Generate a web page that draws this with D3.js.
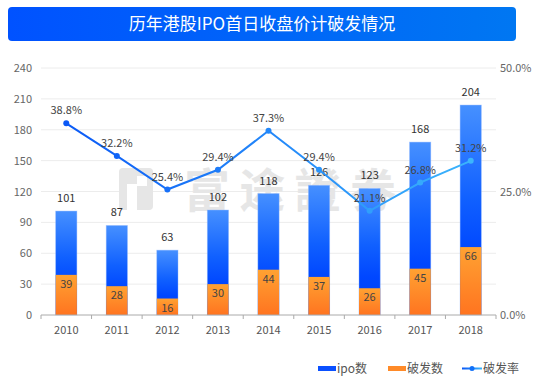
<!DOCTYPE html>
<html>
<head>
<meta charset="utf-8">
<script src="https://cdn.jsdelivr.net/npm/d3@7"></script>
<style>
  body { margin: 0; background: #fff; }
  svg { display: block; font-family: "Noto Sans CJK SC", "Noto Sans", sans-serif; }
</style>
</head>
<body>
<div id="chart"></div>
<script>
// chart data
const years = ["2010", "2011", "2012", "2013", "2014", "2015", "2016", "2017", "2018"];
const ipoCount = [101, 87, 63, 102, 118, 126, 123, 168, 204];
const brokenCount = [39, 28, 16, 30, 44, 37, 26, 45, 66];
const brokenRate = [38.8, 32.2, 25.4, 29.4, 37.3, 29.4, 21.1, 26.8, 31.2];
const leftTicks = [0, 30, 60, 90, 120, 150, 180, 210, 240];
const rightTicks = [0, 25, 50];

const width = 550, height = 385;
const margin = { top: 68, right: 55, bottom: 70, left: 41 };

const svg = d3.select("#chart").append("svg")
    .attr("width", width)
    .attr("height", height);

const defs = svg.append("defs");

const titleGrad = defs.append("linearGradient").attr("id", "titleGrad");
titleGrad.append("stop").attr("offset", "0%").attr("stop-color", "#0052ff");
titleGrad.append("stop").attr("offset", "100%").attr("stop-color", "#0077f2");

const blueGrad = defs.append("linearGradient").attr("id", "blueGrad")
    .attr("x1", 0).attr("y1", 0).attr("x2", 0).attr("y2", 1);
blueGrad.append("stop").attr("offset", "0%").attr("stop-color", "#4690ff");
blueGrad.append("stop").attr("offset", "45%").attr("stop-color", "#1060ff");
blueGrad.append("stop").attr("offset", "70%").attr("stop-color", "#0047ff");
blueGrad.append("stop").attr("offset", "100%").attr("stop-color", "#0040f2");

const orangeGrad = defs.append("linearGradient").attr("id", "orangeGrad")
    .attr("x1", 0).attr("y1", 0).attr("x2", 0).attr("y2", 1);
orangeGrad.append("stop").attr("offset", "0%").attr("stop-color", "#ffa232");
orangeGrad.append("stop").attr("offset", "100%").attr("stop-color", "#ff7420");

// Title bar
svg.append("rect")
    .attr("x", 8).attr("y", 7)
    .attr("width", 508).attr("height", 34)
    .attr("rx", 4)
    .attr("fill", "url(#titleGrad)");

svg.append("text")
    .attr("x", 262).attr("y", 30)
    .attr("text-anchor", "middle")
    .attr("fill", "#fff")
    .attr("font-size", 17)
    .text("历年港股IPO首日收盘价计破发情况");

// Scales
const x = d3.scaleBand()
    .domain(years)
    .range([margin.left, width - margin.right + 1])
    .paddingInner(0.58)
    .paddingOuter(0.29);

const y = d3.scaleLinear()
    .domain([0, 240])
    .range([height - margin.bottom, margin.top]);

const yRate = d3.scaleLinear()
    .domain([0, 50])
    .range([height - margin.bottom, margin.top]);

const plotRight = width - margin.right + 1;

// Grid lines
svg.append("g")
    .selectAll("line")
    .data(leftTicks.filter(d => d > 0))
    .join("line")
    .attr("x1", margin.left)
    .attr("x2", plotRight)
    .attr("y1", d => y(d))
    .attr("y2", d => y(d))
    .attr("stroke", "#ececec")
    .attr("stroke-width", 1);

// Watermark
const wm = svg.append("g").attr("fill", "#e6e6e6");
wm.append("rect").attr("x", 119).attr("y", 168).attr("width", 34).attr("height", 42).attr("rx", 4);
wm.append("rect").attr("x", 127).attr("y", 184).attr("width", 10).attr("height", 26).attr("fill", "#fff");
wm.append("rect").attr("x", 137).attr("y", 176).attr("width", 10).attr("height", 10).attr("fill", "#fff");
wm.append("text")
    .attr("x", 184).attr("y", 207)
    .attr("font-size", 46)
    .attr("font-weight", "bold")
    .attr("textLength", 212)
    .text("富途證券");

// Left axis
const yAxis = svg.append("g")
    .attr("transform", `translate(${margin.left},0)`)
    .call(d3.axisLeft(y).tickValues(leftTicks).tickSize(0).tickPadding(9));
yAxis.select(".domain").remove();
yAxis.selectAll("text").attr("fill", "#666").attr("font-size", 11)
    .attr("font-family", "'Noto Sans CJK SC', sans-serif");

// Right axis
const rAxis = svg.append("g")
    .attr("transform", `translate(${plotRight},0)`)
    .call(d3.axisRight(yRate).tickValues(rightTicks).tickSize(0).tickPadding(4)
        .tickFormat(d => d.toFixed(1) + "%"));
rAxis.select(".domain").remove();
rAxis.selectAll("text").attr("fill", "#666").attr("font-size", 11)
    .attr("font-family", "'Noto Sans CJK SC', sans-serif");

// Bars: ipo total (blue), broken count (orange) over it
const bars = svg.append("g");
bars.selectAll(".ipo")
    .data(years)
    .join("rect")
    .attr("class", "ipo")
    .attr("x", d => x(d))
    .attr("width", x.bandwidth())
    .attr("y", (d, i) => y(ipoCount[i]))
    .attr("height", (d, i) => y(0) - y(ipoCount[i]))
    .attr("fill", "url(#blueGrad)")
    .attr("stroke", "#8fb8ff")
    .attr("stroke-opacity", 0.5)
    .attr("stroke-width", 0.8);

bars.selectAll(".broken")
    .data(years)
    .join("rect")
    .attr("class", "broken")
    .attr("x", d => x(d))
    .attr("width", x.bandwidth())
    .attr("y", (d, i) => y(brokenCount[i]))
    .attr("height", (d, i) => y(0) - y(brokenCount[i]))
    .attr("fill", "url(#orangeGrad)");

// X axis
const xAxisG = svg.append("g")
    .attr("transform", `translate(0,${y(0)})`);
xAxisG.append("line")
    .attr("x1", margin.left).attr("x2", plotRight)
    .attr("stroke", "#aaa");
const boundaries = years.map((d, i) => margin.left + i * x.step());
boundaries.push(plotRight);
xAxisG.selectAll(".tick")
    .data(boundaries)
    .join("line")
    .attr("x1", d => d).attr("x2", d => d)
    .attr("y1", 0).attr("y2", 4)
    .attr("stroke", "#aaa");
xAxisG.selectAll(".lbl")
    .data(years)
    .join("text")
    .attr("x", d => x(d) + x.bandwidth() / 2)
    .attr("y", 19)
    .attr("text-anchor", "middle")
    .attr("fill", "#555")
    .attr("font-size", 11)
    .text(d => d);

// Bar labels
svg.append("g").selectAll("text")
    .data(years)
    .join("text")
    .attr("x", d => x(d) + x.bandwidth() / 2)
    .attr("y", (d, i) => y(ipoCount[i]) - 9)
    .attr("text-anchor", "middle")
    .attr("fill", "#333")
    .attr("font-size", 11)
    .text((d, i) => ipoCount[i]);

svg.append("g").selectAll("text")
    .data(years)
    .join("text")
    .attr("x", d => x(d) + x.bandwidth() / 2)
    .attr("y", (d, i) => y(brokenCount[i]) + 13)
    .attr("text-anchor", "middle")
    .attr("fill", "#444")
    .attr("font-size", 11)
    .text((d, i) => brokenCount[i]);

// Rate line
const lineGrad = defs.append("linearGradient").attr("id", "lineGrad")
    .attr("gradientUnits", "userSpaceOnUse")
    .attr("x1", x(years[0])).attr("x2", x(years[years.length - 1]) + x.bandwidth())
    .attr("y1", 0).attr("y2", 0);
lineGrad.append("stop").attr("offset", "0%").attr("stop-color", "#0a58f6");
lineGrad.append("stop").attr("offset", "100%").attr("stop-color", "#3cb6fc");

const rateLine = d3.line()
    .x((d, i) => x(years[i]) + x.bandwidth() / 2)
    .y(d => yRate(d));

svg.append("path")
    .datum(brokenRate)
    .attr("d", rateLine)
    .attr("fill", "none")
    .attr("stroke", "url(#lineGrad)")
    .attr("stroke-width", 2);

const rateColor = d3.scaleLinear()
    .domain([0, years.length - 1])
    .range(["#0a58f6", "#3cb6fc"]);

svg.append("g").selectAll("circle")
    .data(brokenRate)
    .join("circle")
    .attr("cx", (d, i) => x(years[i]) + x.bandwidth() / 2)
    .attr("cy", d => yRate(d))
    .attr("r", 3)
    .attr("fill", (d, i) => rateColor(i));

svg.append("g").selectAll("text")
    .data(brokenRate)
    .join("text")
    .attr("x", (d, i) => x(years[i]) + x.bandwidth() / 2)
    .attr("y", d => yRate(d) - 9)
    .attr("text-anchor", "middle")
    .attr("fill", "#444")
    .attr("font-size", 11)
    .text(d => d.toFixed(1) + "%");

// Legend
const legendLine = defs.append("linearGradient").attr("id", "legendLine")
    .attr("gradientUnits", "userSpaceOnUse").attr("x1", 462).attr("x2", 482);
legendLine.append("stop").attr("offset", "0%").attr("stop-color", "#0a58f6");
legendLine.append("stop").attr("offset", "100%").attr("stop-color", "#3cb6fc");

const legend = svg.append("g").attr("font-size", 12).attr("fill", "#555");
legend.append("rect").attr("x", 318).attr("y", 366).attr("width", 18).attr("height", 5).attr("fill", "#0a50ff");
legend.append("text").attr("x", 337).attr("y", 373).text("ipo数");
legend.append("rect").attr("x", 388).attr("y", 366).attr("width", 18).attr("height", 5).attr("fill", "#ff8a28");
legend.append("text").attr("x", 407).attr("y", 373).text("破发数");
legend.append("line").attr("x1", 462).attr("x2", 482).attr("y1", 368.5).attr("y2", 368.5)
    .attr("stroke", "url(#legendLine)").attr("stroke-width", 2);
legend.append("circle").attr("cx", 472).attr("cy", 368.5).attr("r", 2.5).attr("fill", "#1070f8");
legend.append("text").attr("x", 483).attr("y", 373).text("破发率");
</script>
</body>
</html>
